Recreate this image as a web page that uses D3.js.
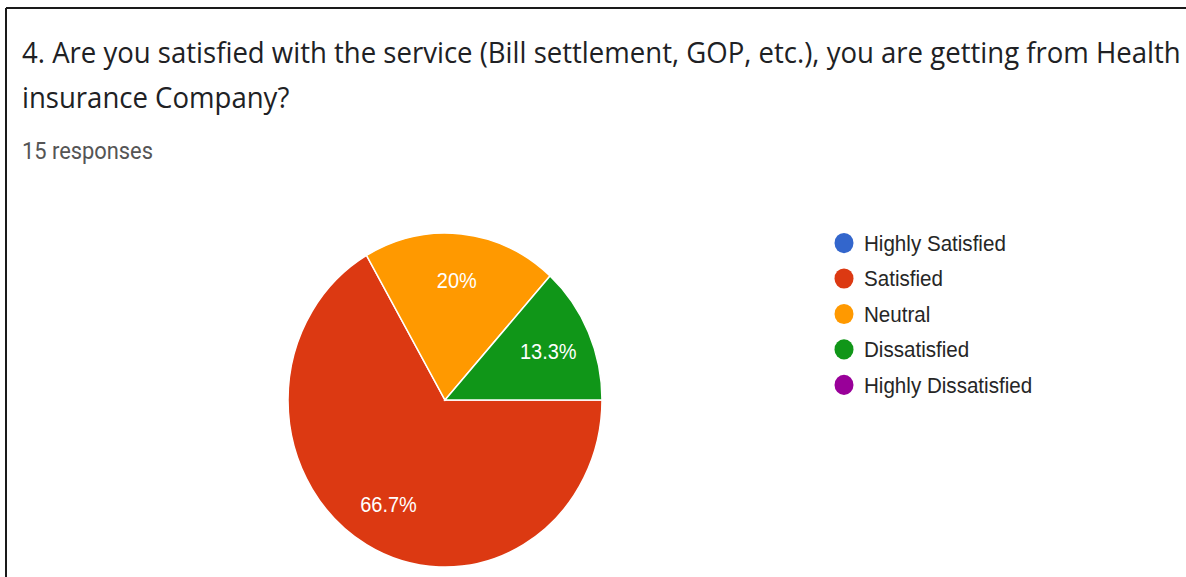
<!DOCTYPE html>
<html>
<head>
<meta charset="utf-8">
<script src="https://cdn.jsdelivr.net/npm/d3@7"></script>
<style>
  html, body { margin: 0; padding: 0; background: #fff; }
  svg { display: block; }
</style>
</head>
<body>
<svg id="chart" width="1186" height="577"></svg>
<script>
// Survey answers for question 4
const categories = ["Highly Satisfied", "Satisfied", "Neutral", "Dissatisfied", "Highly Dissatisfied"];
const counts = [0, 10, 3, 2, 0];
const sliceLabels = ["", "66.7%", "20%", "13.3%", ""];
const colors = ["#3366cc", "#dc3912", "#ff9900", "#109618", "#990099"];
const titleLines = [
  "4. Are you satisfied with the service (Bill settlement, GOP, etc.), you are getting from Health",
  "insurance Company?"
];
const responsesText = "15 responses";

const W = 1186, H = 577;
const stretchY = 1.064;   // the whole card is slightly taller than wide

const svg = d3.select("#chart");

// card frame
svg.append("line").attr("x1", 6).attr("y1", 8).attr("x2", W).attr("y2", 8)
  .attr("stroke", "#1a1a1a").attr("stroke-width", 2);
svg.append("line").attr("x1", 6).attr("y1", 8).attr("x2", 6).attr("y2", H)
  .attr("stroke", "#1a1a1a").attr("stroke-width", 2);

const g = svg.append("g").attr("transform", `scale(1,${stretchY})`);

// fit a text element to a target width by adjusting its font size
function fitWidth(sel, target) {
  const fs = parseFloat(sel.attr("font-size"));
  const w = sel.node().getComputedTextLength();
  if (w > 0) sel.attr("font-size", fs * target / w);
}

// title
const t1 = g.append("text").attr("x", 22).attr("y", 59.2)
  .attr("font-family", "'Open Sans', Roboto, sans-serif").attr("font-size", 22)
  .attr("fill", "#202124").text(titleLines[0]);
fitWidth(t1, 1159);
const titleSize = t1.attr("font-size");
g.append("text").attr("x", 22).attr("y", 101.5)
  .attr("font-family", "'Open Sans', Roboto, sans-serif").attr("font-size", titleSize)
  .attr("fill", "#202124").text(titleLines[1]);

const resp = g.append("text").attr("x", 22).attr("y", 149.4)
  .attr("font-family", "Roboto, 'Liberation Sans', sans-serif").attr("font-size", 17)
  .attr("fill", "#555").text(responsesText);
fitWidth(resp, 131);

// pie
const data = categories.map((c, i) => ({ cat: c, value: counts[i], label: sliceLabels[i], color: colors[i] }));
const radius = 157;
const cx = 445, cy = 376;

const pie = d3.pie().sort(null).value(d => d.value)
  .startAngle(Math.PI / 2).endAngle(Math.PI / 2 + 2 * Math.PI);
const arc = d3.arc().innerRadius(0).outerRadius(radius);
const labelArc = d3.arc().innerRadius(radius * 0.72).outerRadius(radius * 0.72);

const pg = g.append("g").attr("transform", `translate(${cx},${cy})`);
const arcs = pie(data).filter(d => d.data.value > 0);

pg.selectAll("path.slice").data(arcs).join("path")
  .attr("class", "slice")
  .attr("d", arc)
  .attr("fill", d => d.data.color)
  .attr("stroke", "#fff")
  .attr("stroke-width", 1.5);

pg.selectAll("text.pct").data(arcs).join("text")
  .attr("class", "pct")
  .attr("transform", d => `translate(${labelArc.centroid(d)})`)
  .attr("text-anchor", "middle")
  .attr("dy", "0.35em")
  .attr("font-family", "'Liberation Sans', Arial, sans-serif")
  .attr("font-size", 20)
  .attr("fill", "#fff")
  .text(d => d.data.label);

// legend
const legendY = d3.scalePoint().domain(categories).range([228.4, 361.8]);
const lg = g.append("g");
const items = lg.selectAll("g.item").data(data).join("g")
  .attr("class", "item")
  .attr("transform", d => `translate(844,${legendY(d.cat)})`);
items.append("circle").attr("r", 9.5).attr("fill", d => d.color);
items.append("text").attr("x", 20).attr("dy", "0.36em")
  .attr("font-family", "'Liberation Sans', Arial, sans-serif")
  .attr("font-size", 20.6)
  .attr("fill", "#262626")
  .text(d => d.cat);
</script>
</body>
</html>
